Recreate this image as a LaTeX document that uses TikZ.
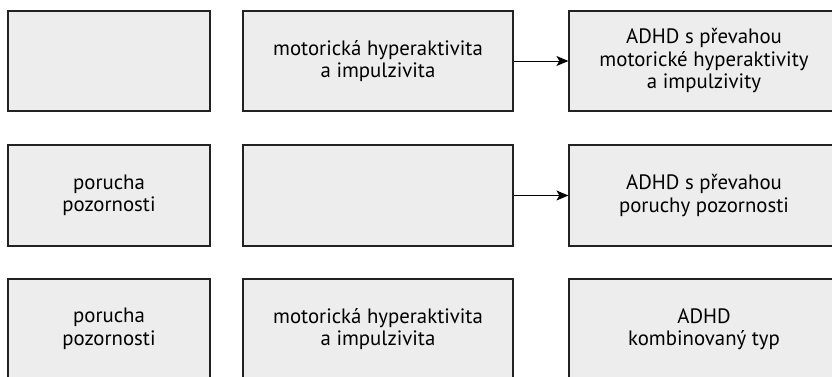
\documentclass[tikz,border=0pt]{standalone}
\usepackage{fontspec}
\setmainfont{PT Sans}
\usetikzlibrary{arrows.meta}
\definecolor{boxfill}{HTML}{EDEDED}
\definecolor{boxline}{HTML}{222222}
\begin{document}
\begin{tikzpicture}[x=1pt,y=1pt,
  cell/.style={draw=boxline,fill=boxfill,line width=1.2pt,inner sep=0pt,
    align=center,font=\fontsize{20.8}{22.5}\selectfont},
  conn/.style={-{Stealth[length=12pt,width=10pt,inset=3pt]},line width=1pt}]
\useasboundingbox (0,0) rectangle (832,376);
\clip (0,0) rectangle (832,376);
\node[cell,minimum width=202pt,minimum height=100pt] (a1) at (109,315) {};
\node[cell,minimum width=270pt,minimum height=100pt] (b1) at (378,315) {motorická hyperaktivita\\a impulzivita};
\node[cell,minimum width=270pt,minimum height=100pt] (c1) at (704,315) {ADHD s převahou\\motorické hyperaktivity\\a impulzivity};
\node[cell,minimum width=202pt,minimum height=101pt] (a2) at (109,180.5) {porucha\\pozornosti};
\node[cell,minimum width=270pt,minimum height=101pt] (b2) at (378,180.5) {};
\node[cell,minimum width=270pt,minimum height=101pt] (c2) at (704,180.5) {ADHD s převahou\\poruchy pozornosti};
\node[cell,minimum width=202pt,minimum height=100pt] (a3) at (109,47) {porucha\\pozornosti};
\node[cell,minimum width=270pt,minimum height=100pt] (b3) at (378,47) {motorická hyperaktivita\\a impulzivita};
\node[cell,minimum width=270pt,minimum height=100pt] (c3) at (704,47) {ADHD\\kombinovaný typ};
\draw[conn] (b1.east) -- (c1.west);
\draw[conn] (b2.east) -- (c2.west);
\end{tikzpicture}
\end{document}
